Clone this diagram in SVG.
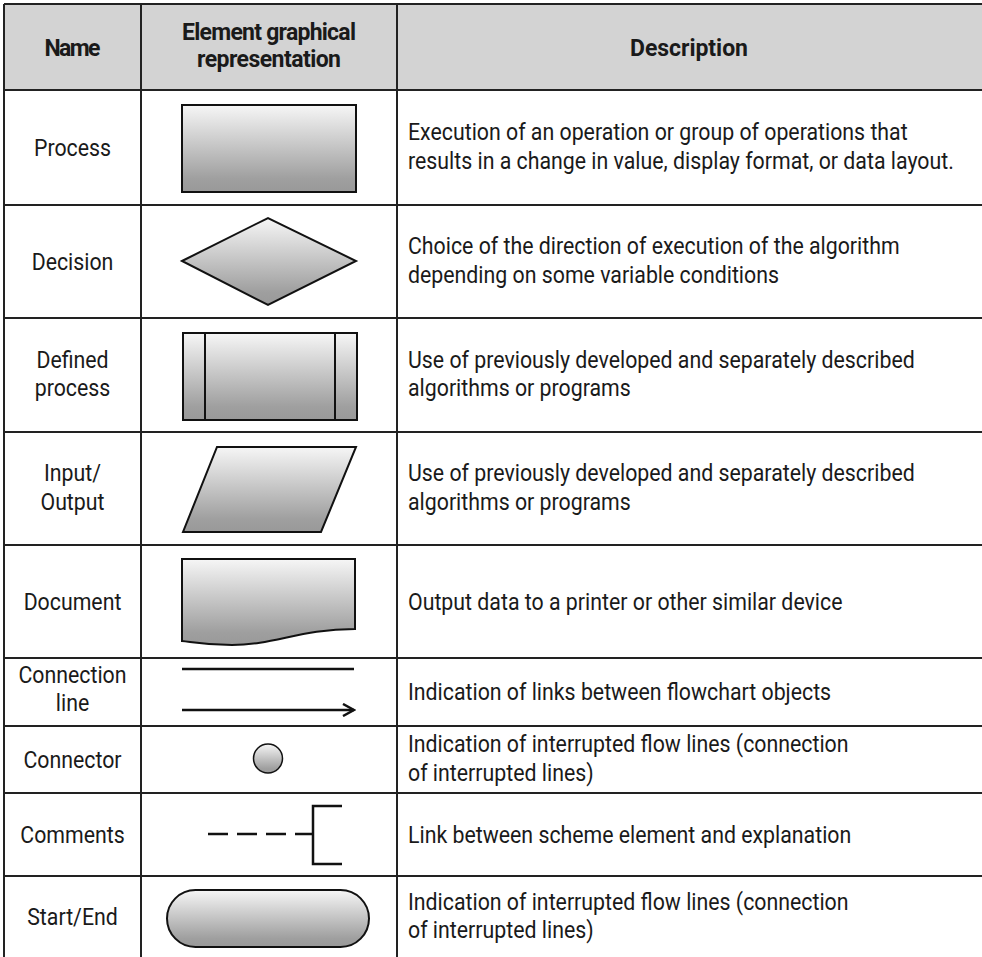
<svg xmlns="http://www.w3.org/2000/svg" width="982" height="957" viewBox="0 0 982 957">
<style>
.t{font-family:Roboto,"Liberation Sans",sans-serif;font-size:24px;fill:#1a1a1a}
.h{font-family:Roboto,"Liberation Sans",sans-serif;font-size:23px;font-weight:bold;fill:#1a1a1a}
.m{text-anchor:middle}
.g{stroke:#222;stroke-width:2;fill:none}
.s{stroke:#111;stroke-width:2;fill:url(#gr)}
.ln{stroke:#111;stroke-width:2.5;fill:none}
</style>
<defs>
<linearGradient id="gr" x1="0" y1="0" x2="0" y2="1">
<stop offset="0" stop-color="#f6f6f6"/>
<stop offset="0.85" stop-color="#9f9f9f"/>
<stop offset="1" stop-color="#999"/>
</linearGradient>
<marker id="arr" markerWidth="14" markerHeight="14" refX="12" refY="7" orient="auto" markerUnits="userSpaceOnUse">
<path d="M1,1 L12,7 L1,13" fill="none" stroke="#111" stroke-width="2.5"/>
</marker>
</defs>
<rect x="0" y="0" width="982" height="957" fill="#fff"/>
<rect x="4" y="4" width="978" height="86" fill="#d3d3d3"/>
<g id="grid">
<path class="g" d="M4,4 H982 M4,90 H982 M4,205 H982 M4,318 H982 M4,432 H982 M4,545 H982 M4,658 H982 M4,726 H982 M4,793 H982 M4,876 H982 M4,4 V957 M141,4 V957 M397,4 V957"/>
</g>
<g id="header">
<text class="h m" x="72.5" y="56" textLength="56">Name</text>
<text class="h m" x="269" y="39.5" textLength="174">Element graphical</text>
<text class="h m" x="269" y="67" textLength="144">representation</text>
<text class="h m" x="689" y="56" textLength="118">Description</text>
</g>
<g id="process">
<text class="t m" transform="translate(72.5,0) scale(0.888,1)" x="0" y="156">Process</text>
<rect class="s" x="182" y="105" width="174" height="87"/>
<text class="t" transform="translate(408,0) scale(0.888,1)" x="0" y="140.5">Execution of an operation or group of operations that</text>
<text class="t" transform="translate(408,0) scale(0.888,1)" x="0" y="169">results in a change in value, display format, or data layout.</text>
</g>
<g id="decision">
<text class="t m" transform="translate(72.5,0) scale(0.888,1)" x="0" y="270">Decision</text>
<polygon class="s" points="182,261 268,218 356,261 268,305"/>
<text class="t" transform="translate(408,0) scale(0.888,1)" x="0" y="254.5">Choice of the direction of execution of the algorithm</text>
<text class="t" transform="translate(408,0) scale(0.888,1)" x="0" y="283">depending on some variable conditions</text>
</g>
<g id="defined-process">
<text class="t m" transform="translate(72.5,0) scale(0.888,1)" x="0" y="368">Defined</text>
<text class="t m" transform="translate(72.5,0) scale(0.888,1)" x="0" y="396.5">process</text>
<rect class="s" x="183" y="333" width="174" height="87"/>
<path class="ln" style="stroke-width:2" d="M205,333 V420 M335,333 V420"/>
<text class="t" transform="translate(408,0) scale(0.888,1)" x="0" y="368">Use of previously developed and separately described</text>
<text class="t" transform="translate(408,0) scale(0.888,1)" x="0" y="396.5">algorithms or programs</text>
</g>
<g id="input-output">
<text class="t m" transform="translate(72.5,0) scale(0.888,1)" x="0" y="481.5">Input/</text>
<text class="t m" transform="translate(72.5,0) scale(0.888,1)" x="0" y="510">Output</text>
<polygon class="s" points="217,447 356,447 321,532 183,532"/>
<text class="t" transform="translate(408,0) scale(0.888,1)" x="0" y="481.5">Use of previously developed and separately described</text>
<text class="t" transform="translate(408,0) scale(0.888,1)" x="0" y="510">algorithms or programs</text>
</g>
<g id="document">
<text class="t m" transform="translate(72.5,0) scale(0.888,1)" x="0" y="610">Document</text>
<path class="s" d="M182,559 H355 V629 C300,629 275,645 232,645 C205,645 192,642 182,641 Z"/>
<text class="t" transform="translate(408,0) scale(0.888,1)" x="0" y="610">Output data to a printer or other similar device</text>
</g>
<g id="connection-line">
<text class="t m" transform="translate(72.5,0) scale(0.888,1)" x="0" y="683">Connection</text>
<text class="t m" transform="translate(72.5,0) scale(0.888,1)" x="0" y="711">line</text>
<text class="t" transform="translate(408,0) scale(0.888,1)" x="0" y="700.5">Indication of links between flowchart objects</text>
</g>
<g id="connector">
<text class="t m" transform="translate(72.5,0) scale(0.888,1)" x="0" y="768">Connector</text>
<circle class="s" style="stroke-width:1.5" cx="268" cy="758.5" r="14.5"/>
<text class="t" transform="translate(408,0) scale(0.888,1)" x="0" y="752.5">Indication of interrupted flow lines (connection</text>
<text class="t" transform="translate(408,0) scale(0.888,1)" x="0" y="781">of interrupted lines)</text>
</g>
<g id="comments">
<text class="t m" transform="translate(72.5,0) scale(0.888,1)" x="0" y="843">Comments</text>
<path class="ln" d="M342,806 H313 V864 H342"/>
<text class="t" transform="translate(408,0) scale(0.888,1)" x="0" y="843">Link between scheme element and explanation</text>
</g>
<g id="start-end">
<text class="t m" transform="translate(72.5,0) scale(0.888,1)" x="0" y="925">Start/End</text>
<rect class="s" x="167" y="890" width="202" height="57" rx="28.5"/>
<text class="t" transform="translate(408,0) scale(0.888,1)" x="0" y="910">Indication of interrupted flow lines (connection</text>
<text class="t" transform="translate(408,0) scale(0.888,1)" x="0" y="938.5">of interrupted lines)</text>
</g>
<g id="connectors">
<line class="ln" x1="182" y1="669" x2="354" y2="669"/>
<line class="ln" x1="182" y1="710" x2="354" y2="710" marker-end="url(#arr)"/>
<line class="ln" x1="208" y1="834" x2="313" y2="834" stroke-dasharray="20,9"/>
</g>
</svg>
